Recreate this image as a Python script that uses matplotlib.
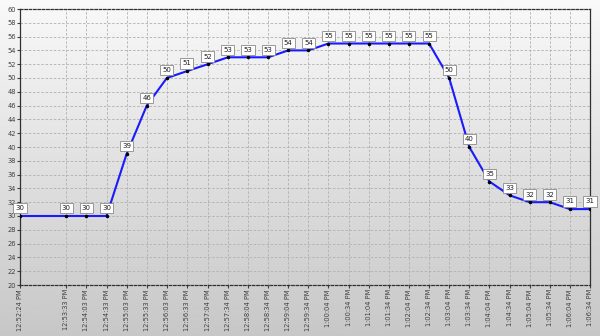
import numpy as np
import matplotlib
matplotlib.use("Agg")
import matplotlib.pyplot as plt
from datetime import datetime

# sample times and values
times = ["12:52:24 PM", "12:53:33 PM", "12:54:03 PM", "12:54:33 PM", "12:55:03 PM",
         "12:55:33 PM", "12:56:03 PM", "12:56:33 PM", "12:57:04 PM", "12:57:34 PM",
         "12:58:04 PM", "12:58:34 PM", "12:59:04 PM", "12:59:34 PM", "1:00:04 PM",
         "1:00:34 PM", "1:01:04 PM", "1:01:34 PM", "1:02:04 PM", "1:02:34 PM",
         "1:03:04 PM", "1:03:34 PM", "1:04:04 PM", "1:04:34 PM", "1:05:04 PM",
         "1:05:34 PM", "1:06:04 PM", "1:06:34 PM"]
values = [30, 30, 30, 30, 39, 46, 50, 51, 52, 53, 53, 53, 54, 54, 55,
          55, 55, 55, 55, 55, 50, 40, 35, 33, 32, 32, 31, 31]

parsed = [datetime.strptime(t, "%I:%M:%S %p") for t in times]
secs = np.array([(p - parsed[0]).total_seconds() for p in parsed])

W, H = 600, 336
fig = plt.figure(figsize=(W / 100, H / 100), dpi=100)

# background gradient over the whole figure
bg = fig.add_axes([0, 0, 1, 1], zorder=-10)
grad = np.linspace(0.975, 0.78, 256).reshape(-1, 1)
bg.imshow(grad, cmap="gray", vmin=0, vmax=1, aspect="auto", extent=[0, 1, 0, 1])
bg.set_axis_off()

left, right = 20 / W, 590 / W
top, bottom = 1 - 9 / H, 1 - 285 / H
ax = fig.add_axes([left, bottom, right - left, top - bottom])
ax.set_facecolor("none")

ax.plot(secs, values, color="#1a1aff", lw=1.5, zorder=3)
ax.plot(secs, values, "o", color="black", ms=1.5, zorder=4)

for x, v in zip(secs, values):
    ax.annotate(str(v), (x, v), xytext=(0, 5.5), textcoords="offset points",
                ha="center", va="center", fontsize=5, color="#202020",
                bbox=dict(boxstyle="square,pad=0.3", fc="white", ec="#8a8a8a", lw=0.6),
                zorder=5, annotation_clip=False)

ax.set_xlim(secs[0], secs[-1])
ax.set_ylim(20, 60)
ax.set_yticks(np.arange(20, 61, 2))
ax.set_xticks(secs)
ax.set_xticklabels(times, rotation=90)
ax.tick_params(axis="both", labelsize=4.8, colors="#404040", length=2, pad=1)
ax.grid(True, color="#b0b0b0", ls=(0, (3, 2)), lw=0.6)

for s in ["left", "right"]:
    ax.spines[s].set_color("#303030")
    ax.spines[s].set_linewidth(0.9)
for s in ["top", "bottom"]:
    ax.spines[s].set_color("#303030")
    ax.spines[s].set_linestyle((0, (2, 1.5)))
    ax.spines[s].set_linewidth(0.9)

fig.savefig("out.png", dpi=100)
